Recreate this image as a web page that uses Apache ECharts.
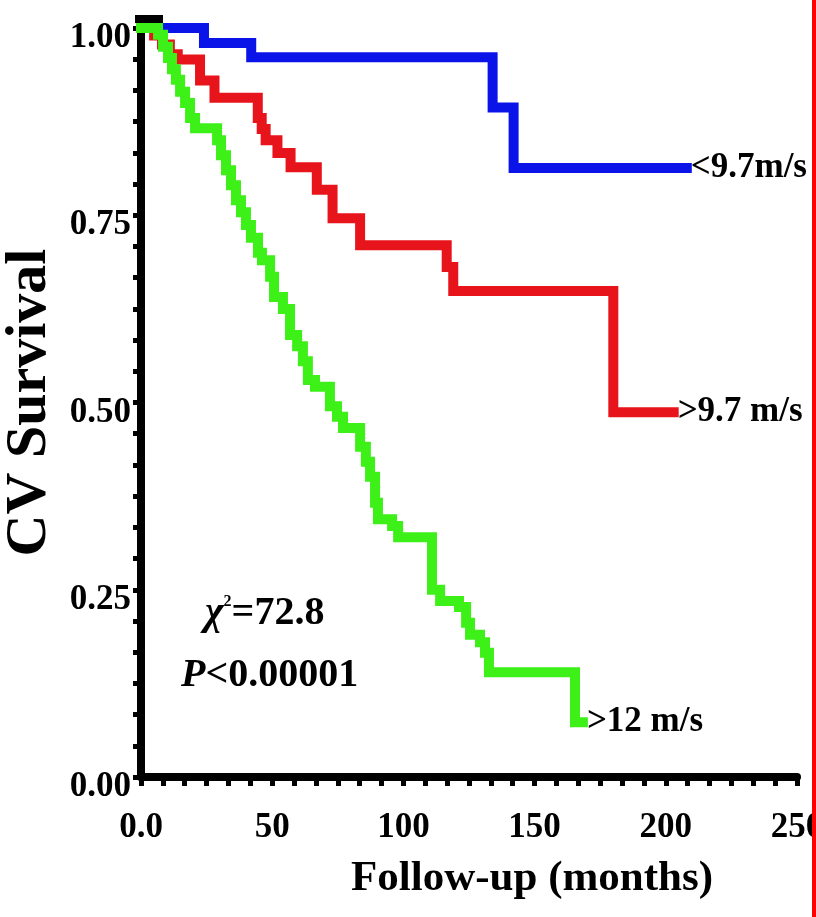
<!DOCTYPE html>
<html>
<head>
<meta charset="utf-8">
<script src="https://cdn.jsdelivr.net/npm/echarts@6/dist/echarts.min.js"></script>
<style>
  html, body { margin: 0; padding: 0; background: #ffffff; }
  #chart { width: 816px; height: 917px; }
</style>
</head>
<body>
<div id="chart"></div>
<script>
// ---- Data ----
const seriesNames = ['<9.7m/s', '>9.7 m/s', '>12 m/s'];
const xTicks = [0, 50, 100, 150, 200, 250];
const yTicks = [0, 0.25, 0.5, 0.75, 1.0];

// [month, survival] – value holds from that month onward (Kaplan–Meier steps)
const blueCurve = [
  [0, 1.0], [24, 0.98], [42, 0.961], [134, 0.894], [142, 0.813], [208, 0.813]
];
const redCurve = [
  [0, 1.0], [5, 0.99], [8, 0.978], [11, 0.965], [14, 0.958], [22.5, 0.93], [28, 0.907],
  [44.5, 0.88], [46, 0.865], [47.5, 0.85], [52, 0.833], [57, 0.814], [67, 0.784],
  [73, 0.746], [83.5, 0.71], [116.5, 0.681], [119, 0.649], [180, 0.487], [203, 0.487]
];
const greenCurve = [
  [0, 1.0], [6.5, 0.991], [8.4, 0.975], [10.3, 0.96], [11.8, 0.945], [13.3, 0.931],
  [14.9, 0.915], [16.8, 0.9], [18.7, 0.88], [20.6, 0.866], [29, 0.85], [30.5, 0.83],
  [32.4, 0.81], [34.3, 0.79], [36.2, 0.77], [38.1, 0.754], [40, 0.737], [41.9, 0.72],
  [44.6, 0.7], [46.1, 0.69], [49.2, 0.668], [50.7, 0.641], [54.1, 0.625], [56.8, 0.59],
  [59.5, 0.575], [61.7, 0.555], [63.6, 0.53], [66.3, 0.521], [72, 0.495], [74.7, 0.481],
  [77, 0.466], [83.5, 0.441], [85.7, 0.421], [87.3, 0.401], [89.2, 0.366], [90.3, 0.344],
  [95.7, 0.335], [98, 0.32], [110.9, 0.25], [114, 0.235], [121.2, 0.227], [123.9, 0.206],
  [125.4, 0.19], [129.2, 0.18], [131.1, 0.166], [132.6, 0.14], [165.4, 0.073], [168.4, 0.073]
];

// ---- Chart ----
const FONT = "'Liberation Serif', 'Times New Roman', serif";
const chart = echarts.init(document.getElementById('chart'), null, { renderer: 'canvas' });

function stepSeries(name, data, color) {
  return {
    name: name,
    type: 'line',
    step: 'end',
    data: data,
    showSymbol: false,
    symbol: 'none',
    lineStyle: { color: color, width: 10, cap: 'square', join: 'miter' },
    endLabel: {
      show: true,
      formatter: '{a}',
      color: '#000',
      fontFamily: FONT,
      fontWeight: 'bold',
      fontSize: 35,
      distance: 4
    },
    z: 3
  };
}

const option = {
  animation: false,
  backgroundColor: '#ffffff',
  grid: { left: 141, right: 19, top: 28, bottom: 140, containLabel: false, outerBoundsMode: 'none' },
  xAxis: {
    type: 'value',
    min: xTicks[0],
    max: xTicks[xTicks.length - 1],
    interval: 50,
    name: 'Follow-up (months)',
    nameLocation: 'middle',
    nameGap: 80,
    nameTextStyle: {
      color: '#000', fontFamily: FONT, fontWeight: 'bold', fontSize: 43,
      verticalAlign: 'top', padding: [0, 0, 0, 126]
    },
    axisLine: { show: true, onZero: false, lineStyle: { color: '#000', width: 8 } },
    axisTick: { show: true, inside: false, length: 9, lineStyle: { color: '#000', width: 5 } },
    minorTick: { show: true, splitNumber: 6, length: 9, lineStyle: { color: '#000', width: 5 } },
    splitLine: { show: false },
    minorSplitLine: { show: false },
    axisLabel: {
      color: '#000', fontFamily: FONT, fontWeight: 'bold', fontSize: 35, margin: 33,
      formatter: v => (v === 0 ? '0.0' : String(v)),
      showMinLabel: true, showMaxLabel: true
    }
  },
  yAxis: {
    type: 'value',
    min: yTicks[0],
    max: yTicks[yTicks.length - 1],
    interval: 0.25,
    name: 'CV Survival',
    nameLocation: 'middle',
    nameGap: 80,
    nameRotate: 90,
    nameTextStyle: { color: '#000', fontFamily: FONT, fontWeight: 'bold', fontSize: 58, padding: [0, 0, 0, 0] },
    axisLine: { show: true, onZero: false, lineStyle: { color: '#000', width: 8 } },
    axisTick: { show: true, inside: false, length: 8, lineStyle: { color: '#000', width: 5 } },
    minorTick: { show: true, splitNumber: 6, length: 8, lineStyle: { color: '#000', width: 5 } },
    splitLine: { show: false },
    minorSplitLine: { show: false },
    axisLabel: {
      color: '#000', fontFamily: FONT, fontWeight: 'bold', fontSize: 35, margin: 10,
      verticalAlign: 'top', lineHeight: 20,
      formatter: v => v.toFixed(2)
    }
  },
  series: [
    stepSeries(seriesNames[0], blueCurve, '#0a14e8'),
    stepSeries(seriesNames[1], redCurve, '#e8141c'),
    stepSeries(seriesNames[2], greenCurve, '#3cf018')
  ],
  graphic: [
    {
      type: 'text',
      left: 205, top: 594,
      style: {
        text: '{c|χ}{s|2}{n|=72.8}',
        rich: {
          c: { fontFamily: FONT, fontSize: 40, fontWeight: 'bold', fontStyle: 'italic', fill: '#000' },
          s: { fontFamily: FONT, fontSize: 16, fontWeight: 'bold', fill: '#000', verticalAlign: 'top', padding: [0, 0, 18, 0] },
          n: { fontFamily: FONT, fontSize: 40, fontWeight: 'bold', fill: '#000' }
        }
      },
      z: 10
    },
    {
      type: 'text',
      left: 181, top: 656,
      style: {
        text: '{p|P}{n|<0.00001}',
        rich: {
          p: { fontFamily: FONT, fontSize: 40, fontWeight: 'bold', fontStyle: 'italic', fill: '#000' },
          n: { fontFamily: FONT, fontSize: 40, fontWeight: 'bold', fill: '#000' }
        }
      },
      z: 10
    },
    {
      type: 'rect',
      left: 135, top: 15,
      shape: { width: 28, height: 8 },
      style: { fill: '#000' },
      z: 50
    },
    {
      type: 'rect',
      right: 0, top: 0,
      shape: { width: 4, height: 917 },
      style: { fill: '#ff0000' },
      z: 100
    }
  ]
};
chart.setOption(option);
</script>
</body>
</html>
